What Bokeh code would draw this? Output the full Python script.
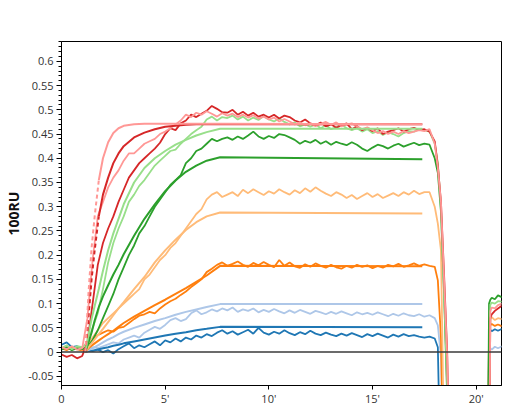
from bokeh.plotting import figure
from bokeh.models import Range1d, Span, FixedTicker, CustomJSTickFormatter
from bokeh.embed import file_html
from bokeh.resources import INLINE

# ---------------- data ----------------
T_MAIN = [i * 0.25 for i in range(71)]          # 0 .. 17.5 min
T_TAIL = [17.75, 18.0, 18.15, 18.3, 18.45, 18.6, 18.75, 20.55, 20.62, 20.68, 20.75, 20.9, 21.05, 21.25]
FIT_T = [1.15, 1.3, 1.45, 1.6, 1.8, 2.0, 2.25, 2.5, 2.75, 3.0, 3.5, 4.0, 4.5, 5.0, 5.5, 6.0, 6.5, 7.0, 7.65, 17.4]

B_MAIN = [0.015, 0.02, 0.01, 0.012, 0.008, 0.004, 0.002, 0.005, 0.0, 0.004, -0.003, 0.006,
          0.012, 0.018, 0.008, 0.014, 0.01, 0.016, 0.022, 0.014, 0.024, 0.02, 0.028, 0.022,
          0.03, 0.026, 0.034, 0.03, 0.037, 0.033, 0.04, 0.045, 0.038, 0.043, 0.036, 0.041,
          0.046, 0.038, 0.05, 0.04, 0.036, 0.042, 0.038, 0.045, 0.039, 0.035, 0.041, 0.037,
          0.044, 0.038, 0.035, 0.04, 0.036, 0.033, 0.038, 0.034, 0.039, 0.035, 0.031, 0.037,
          0.033, 0.038, 0.034, 0.03, 0.036, 0.032, 0.037, 0.033, 0.035, 0.032, 0.03]
B_TAIL = [0.032, 0.028, 0.01, -0.3, -0.3, -0.3, -0.3, -0.3, 0.04, 0.046, 0.043, 0.047, 0.044, 0.048]

LB_MAIN = [0.01, 0.005, 0.012, 0.006, 0.004, 0.006, 0.01, 0.008, 0.012, 0.016, 0.02, 0.018,
           0.026, 0.03, 0.034, 0.03, 0.04, 0.046, 0.052, 0.048, 0.056, 0.066, 0.07, 0.064,
           0.068, 0.08, 0.086, 0.078, 0.082, 0.088, 0.084, 0.09, 0.086, 0.092, 0.083, 0.088,
           0.085, 0.09, 0.082, 0.087, 0.083, 0.089, 0.084, 0.08, 0.086, 0.081, 0.087, 0.083,
           0.079, 0.085, 0.082, 0.078, 0.083, 0.079, 0.084, 0.08, 0.076, 0.082, 0.078, 0.081,
           0.077, 0.082, 0.078, 0.074, 0.079, 0.075, 0.08, 0.076, 0.074, 0.078, 0.073]
LB_TAIL = [0.076, 0.07, 0.055, -0.01, -0.3, -0.3, -0.3, -0.3, 0.004, 0.008, 0.005, 0.011, 0.008, 0.012]

O_MAIN = [0.008, 0.004, 0.01, 0.006, 0.003, 0.012, 0.025, 0.035, 0.04, 0.045, 0.042, 0.05,
          0.052, 0.06, 0.068, 0.075, 0.078, 0.083, 0.08, 0.09, 0.098, 0.105, 0.11, 0.118,
          0.125, 0.134, 0.142, 0.15, 0.165, 0.172, 0.18, 0.185, 0.178, 0.182, 0.187, 0.18,
          0.176, 0.184, 0.179, 0.186, 0.18, 0.175, 0.19, 0.178, 0.185, 0.177, 0.174, 0.181,
          0.176, 0.183, 0.178, 0.174, 0.18, 0.175, 0.172, 0.178, 0.174, 0.18, 0.176, 0.179,
          0.173, 0.178, 0.174, 0.18, 0.177, 0.182, 0.176, 0.179, 0.183, 0.178, 0.181]
O_TAIL = [0.178, 0.176, 0.148, 0.03, -0.3, -0.3, -0.3, -0.3, 0.05, 0.056, 0.058, 0.054, 0.057, 0.053]

LO_MAIN = [0.008, 0.012, 0.006, 0.01, 0.005, 0.015, 0.03, 0.045, 0.06, 0.07, 0.08, 0.09,
           0.1, 0.11, 0.12, 0.13, 0.15, 0.16, 0.175, 0.19, 0.2, 0.215, 0.225, 0.24,
           0.255, 0.27, 0.285, 0.295, 0.315, 0.325, 0.33, 0.32, 0.325, 0.33, 0.322, 0.335,
           0.328, 0.336, 0.33, 0.324, 0.332, 0.327, 0.336, 0.33, 0.325, 0.334, 0.328, 0.338,
           0.331, 0.34, 0.333, 0.327, 0.322, 0.33, 0.325, 0.318, 0.324, 0.316, 0.322, 0.328,
           0.32, 0.326, 0.318, 0.323, 0.328, 0.322, 0.33, 0.325, 0.333, 0.326, 0.33]
LO_TAIL = [0.33, 0.30, 0.265, 0.21, -0.2, -0.3, -0.3, -0.3, -0.3, 0.068, 0.072, 0.066, 0.07, 0.068]

G_MAIN = [0.005, 0.01, 0.004, 0.008, 0.006, 0.01, 0.025, 0.045, 0.07, 0.095, 0.12, 0.15,
          0.175, 0.2, 0.22, 0.245, 0.26, 0.28, 0.3, 0.315, 0.33, 0.345, 0.355, 0.365,
          0.39, 0.4, 0.415, 0.42, 0.43, 0.44, 0.435, 0.44, 0.443, 0.438, 0.445, 0.44,
          0.447, 0.455, 0.445, 0.44, 0.446, 0.442, 0.45, 0.448, 0.443, 0.438, 0.43, 0.436,
          0.432, 0.438, 0.43, 0.435, 0.428, 0.434, 0.43, 0.427, 0.433, 0.428, 0.42, 0.415,
          0.422, 0.428, 0.425, 0.42, 0.426, 0.43, 0.424, 0.428, 0.432, 0.427, 0.43]
G_TAIL = [0.428, 0.40, 0.37, 0.29, 0.12, -0.09, -0.3, -0.3, 0.1, 0.108, 0.112, 0.109, 0.117, 0.113]

LG_MAIN = [0.008, 0.014, 0.006, 0.012, 0.01, 0.02, 0.05, 0.08, 0.13, 0.185, 0.225, 0.255,
           0.28, 0.31, 0.325, 0.343, 0.355, 0.37, 0.385, 0.395, 0.405, 0.415, 0.418, 0.43,
           0.44, 0.45, 0.458, 0.465, 0.48, 0.486, 0.478, 0.485, 0.483, 0.488, 0.48, 0.486,
           0.478, 0.484, 0.479, 0.487, 0.48, 0.476, 0.482, 0.475, 0.47, 0.474, 0.466, 0.47,
           0.465, 0.47, 0.462, 0.468, 0.46, 0.464, 0.47, 0.462, 0.458, 0.462, 0.455, 0.46,
           0.452, 0.456, 0.448, 0.454, 0.45, 0.445, 0.452, 0.456, 0.455, 0.46, 0.458]
LG_TAIL = [0.455, 0.43, 0.39, 0.30, 0.13, -0.07, -0.3, -0.3, -0.3, 0.098, 0.102, 0.1, 0.105, 0.104]

R_MAIN = [-0.005, -0.01, -0.006, -0.013, -0.008, 0.02, 0.1, 0.18, 0.225, 0.255, 0.28, 0.31,
          0.335, 0.36, 0.375, 0.39, 0.4, 0.41, 0.42, 0.432, 0.45, 0.462, 0.458, 0.472,
          0.478, 0.49, 0.485, 0.492, 0.498, 0.508, 0.502, 0.495, 0.494, 0.5, 0.49, 0.496,
          0.488, 0.494, 0.486, 0.49, 0.484, 0.49, 0.482, 0.488, 0.485, 0.478, 0.474, 0.48,
          0.472, 0.468, 0.474, 0.466, 0.47, 0.463, 0.468, 0.472, 0.46, 0.466, 0.458, 0.463,
          0.456, 0.462, 0.45, 0.455, 0.458, 0.462, 0.455, 0.46, 0.463, 0.458, 0.46]
R_TAIL = [0.455, 0.435, 0.385, 0.31, 0.16, 0.0, -0.3, -0.3, -0.3, 0.07, 0.078, 0.085, 0.09, 0.096]

PK_MAIN = [0.01, 0.006, 0.012, 0.005, 0.008, 0.07, 0.19, 0.28, 0.31, 0.34, 0.36, 0.375,
           0.395, 0.41, 0.41, 0.42, 0.43, 0.435, 0.44, 0.45, 0.455, 0.462, 0.47, 0.478,
           0.49, 0.485, 0.494, 0.49, 0.497, 0.492, 0.486, 0.493, 0.488, 0.492, 0.485, 0.49,
           0.484, 0.489, 0.482, 0.486, 0.48, 0.484, 0.476, 0.481, 0.476, 0.47, 0.474, 0.468,
           0.472, 0.466, 0.471, 0.475, 0.469, 0.474, 0.466, 0.47, 0.472, 0.466, 0.46, 0.464,
           0.458, 0.452, 0.456, 0.45, 0.455, 0.45, 0.456, 0.452, 0.455, 0.458, 0.456]
PK_TAIL = [0.46, 0.43, 0.38, 0.31, 0.15, -0.01, -0.3, -0.3, -0.3, 0.085, 0.092, 0.09, 0.097, 0.1]

PK_FIT = [0, 0.12, 0.215, 0.28, 0.355, 0.40, 0.433, 0.452, 0.462, 0.467, 0.47, 0.471, 0.471, 0.471, 0.471, 0.471, 0.471, 0.471, 0.471, 0.47]
R_FIT = [0, 0.07, 0.15, 0.21, 0.28, 0.325, 0.36, 0.39, 0.41, 0.425, 0.443, 0.453, 0.46, 0.465, 0.467, 0.469, 0.47, 0.47, 0.47, 0.47]
LG_FIT = [0, 0.035, 0.068, 0.095, 0.13, 0.168, 0.21, 0.245, 0.275, 0.305, 0.35, 0.38, 0.40, 0.415, 0.428, 0.438, 0.447, 0.454, 0.461, 0.461]
G_FIT = [0, 0.02, 0.04, 0.065, 0.093, 0.115, 0.138, 0.16, 0.18, 0.202, 0.24, 0.275, 0.305, 0.332, 0.354, 0.372, 0.385, 0.395, 0.402, 0.398]
LO_FIT = [0, 0.01, 0.018, 0.026, 0.037, 0.048, 0.062, 0.076, 0.09, 0.103, 0.13, 0.155, 0.185, 0.21, 0.232, 0.252, 0.268, 0.28, 0.288, 0.286]
O_FIT = [0, 0.008, 0.013, 0.018, 0.024, 0.03, 0.037, 0.044, 0.052, 0.06, 0.073, 0.085, 0.097, 0.108, 0.12, 0.132, 0.145, 0.158, 0.178, 0.177]
LB_FIT = [0, 0.004, 0.007, 0.01, 0.015, 0.02, 0.026, 0.031, 0.037, 0.042, 0.05, 0.057, 0.064, 0.07, 0.077, 0.083, 0.088, 0.093, 0.099, 0.099]
B_FIT = [0, 0.002, 0.003, 0.004, 0.006, 0.008, 0.01, 0.013, 0.015, 0.018, 0.022, 0.026, 0.03, 0.034, 0.038, 0.041, 0.045, 0.048, 0.052, 0.051]

Y_TICKS = [-0.05, 0, 0.05, 0.1, 0.15, 0.2, 0.25, 0.3, 0.35, 0.4, 0.45, 0.5, 0.55, 0.6]
Y_MINOR = [round(i * 0.01, 2) for i in range(-6, 65)]
X_TICKS = [0, 5, 10, 15, 20]

SERIES = [
    ("#1f77b4", B_MAIN, B_TAIL, B_FIT),
    ("#aec7e8", LB_MAIN, LB_TAIL, LB_FIT),
    ("#ff7f0e", O_MAIN, O_TAIL, O_FIT),
    ("#ffbb78", LO_MAIN, LO_TAIL, LO_FIT),
    ("#2ca02c", G_MAIN, G_TAIL, G_FIT),
    ("#98df8a", LG_MAIN, LG_TAIL, LG_FIT),
    ("#d62728", R_MAIN, R_TAIL, R_FIT),
    ("#ff9896", PK_MAIN, PK_TAIL, PK_FIT),
]
DASHED_START = {"#d62728", "#ff9896"}

# ---------------- figure ----------------
FONT = "Open Sans"
p = figure(width=503, height=411, output_backend="svg", toolbar_location=None,
           x_range=Range1d(0, 21.22), y_range=Range1d(-0.069, 0.641),
           min_border_left=61, min_border_right=2, min_border_top=41, min_border_bottom=26)
p.xgrid.visible = False
p.ygrid.visible = False
p.outline_line_color = "black"
p.outline_line_alpha = 1.0
p.outline_line_width = 1
p.background_fill_color = "white"
p.border_fill_color = "white"

for color, main, tail, fit in SERIES:
    p.line(T_MAIN + T_TAIL, main + tail, line_color=color, line_width=1.8)
for color, main, tail, fit in SERIES:
    if color in DASHED_START:
        p.line(FIT_T[:5], fit[:5], line_color=color, line_width=2, line_dash="4 3")
        p.line(FIT_T[4:], fit[4:], line_color=color, line_width=2)
    else:
        p.line(FIT_T, fit, line_color=color, line_width=2)

p.add_layout(Span(location=0, dimension="width", line_color="#3a3a3a", line_width=1.5))

# y axis
p.yaxis.ticker = FixedTicker(ticks=Y_TICKS, minor_ticks=Y_MINOR)
p.yaxis.formatter = CustomJSTickFormatter(code="""
    let s = tick.toFixed(2);
    s = s.replace(/0+$/, '').replace(/\\.$/, '');
    if (s === '-0') s = '0';
    return s;
""")
p.yaxis.axis_label = "100RU"
p.yaxis.axis_label_text_font = FONT
p.yaxis.axis_label_text_font_style = "bold"
p.yaxis.axis_label_text_font_size = "14px"
p.yaxis.axis_label_text_color = "#111111"
p.yaxis.axis_label_standoff = 2
p.yaxis.major_tick_out = 5
p.yaxis.major_tick_in = 0
p.yaxis.minor_tick_out = 3
p.yaxis.minor_tick_in = 0
p.yaxis.major_label_standoff = 3

# x axis
p.xaxis.ticker = FixedTicker(ticks=X_TICKS, minor_ticks=[])
p.xaxis.formatter = CustomJSTickFormatter(code="""
    return tick === 0 ? '0' : tick + "'";
""")
p.xaxis.major_tick_out = 4
p.xaxis.major_tick_in = 0
p.xaxis.minor_tick_out = 0
p.xaxis.minor_tick_in = 0
p.xaxis.major_label_standoff = 1

for ax in (p.xaxis, p.yaxis):
    ax.major_label_text_font = FONT
    ax.major_label_text_font_size = "11px"
    ax.major_label_text_color = "#333333"
    ax.axis_line_color = "black"
    ax.major_tick_line_color = "black"
    ax.minor_tick_line_color = "black"

open("out.html", "w").write(file_html(p, INLINE))
